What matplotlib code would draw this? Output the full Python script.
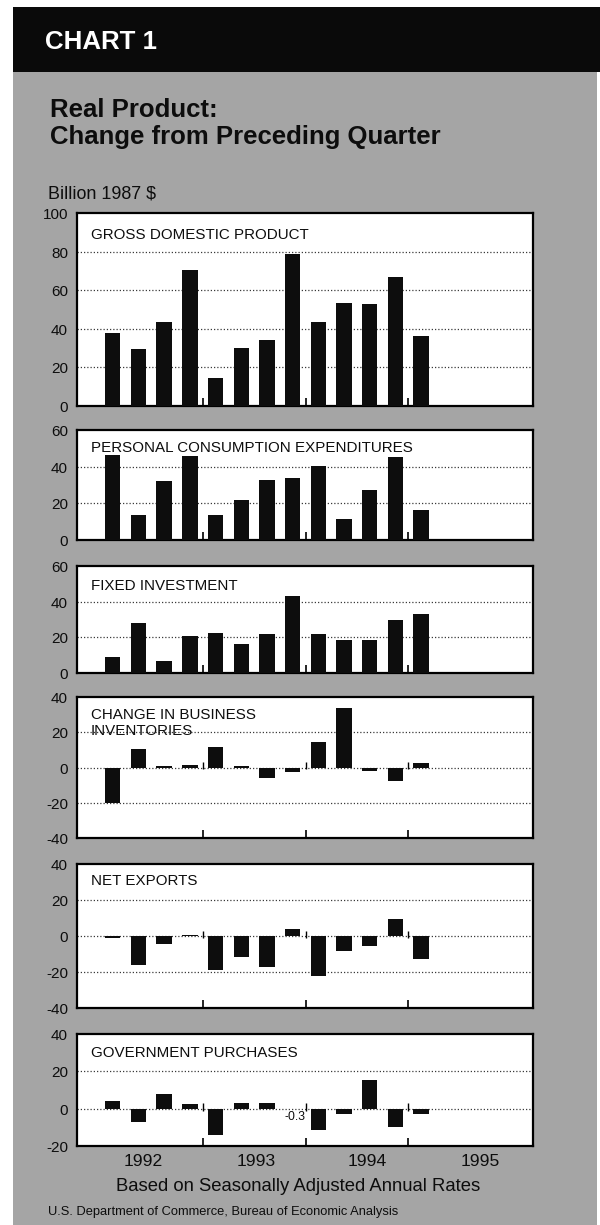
import matplotlib
matplotlib.use("Agg")
import matplotlib.pyplot as plt
from matplotlib.patches import Rectangle

plt.rcParams['font.family'] = ['Liberation Sans', 'DejaVu Sans']
plt.rcParams['axes.unicode_minus'] = False

# ---------------- data ----------------
quarters = ['1992Q1', '1992Q2', '1992Q3', '1992Q4',
            '1993Q1', '1993Q2', '1993Q3', '1993Q4',
            '1994Q1', '1994Q2', '1994Q3', '1994Q4', '1995Q1']
years = ['1992', '1993', '1994', '1995']
year_label_pos = [1.2, 5.6, 9.9, 14.3]
year_bounds = [3.5, 7.5, 11.5]

gdp = [37.9, 29.3, 43.6, 70.5, 14.7, 30.3, 34.3, 78.8, 43.3, 53.2, 53.0, 66.8, 36.4]
pce = [46.5, 13.8, 32.4, 46.0, 13.6, 21.8, 32.9, 34.0, 40.5, 11.3, 27.1, 45.1, 16.2]
fixed_inv = [8.8, 27.9, 6.6, 20.6, 22.3, 16.4, 21.7, 43.2, 21.9, 18.3, 18.3, 29.7, 32.9]
inventories = [-20.2, 10.3, 1.1, 1.5, 11.9, 0.6, -6.0, -2.4, 14.4, 33.5, -2.2, -7.9, 2.6]
net_exports = [-0.9, -16.2, -4.7, 0.5, -19.1, -11.8, -17.3, 4.0, -22.0, -8.2, -5.3, 9.6, -12.9]
government = [3.9, -7.2, 7.9, 2.5, -14.2, 3.2, 2.8, -0.3, -11.6, -2.8, 15.3, -9.8, -2.8]

titles = ['GROSS DOMESTIC PRODUCT', 'PERSONAL CONSUMPTION EXPENDITURES',
          'FIXED INVESTMENT', 'CHANGE IN BUSINESS\nINVENTORIES',
          'NET EXPORTS', 'GOVERNMENT PURCHASES']
series = [gdp, pce, fixed_inv, inventories, net_exports, government]
ylims = [(0, 100), (0, 60), (0, 60), (-40, 40), (-40, 40), (-20, 40)]
yticks = [[0, 20, 40, 60, 80, 100], [0, 20, 40, 60], [0, 20, 40, 60],
          [-40, -20, 0, 20, 40], [-40, -20, 0, 20, 40], [-20, 0, 20, 40]]

# ---------------- layout (pixels) ----------------
W, H = 600, 1225
fig = plt.figure(figsize=(W / 100, H / 100), dpi=100, facecolor='white')

def fx(x):
    return x / W

def fy(y):
    return 1 - y / H

GRAY = '#a5a5a5'
INK = '#0d0d0d'

# background
fig.patches.append(Rectangle((fx(13), 0), fx(597) - fx(13), fy(72), transform=fig.transFigure,
                             facecolor=GRAY, edgecolor='none', zorder=-10))
fig.patches.append(Rectangle((fx(13), fy(72)), 1 - fx(13), fy(7) - fy(72), transform=fig.transFigure,
                             facecolor='#0a0a0a', edgecolor='none', zorder=-10))

fig.text(fx(45), fy(49), 'CHART 1', color='white', fontsize=18.6, fontweight='bold', va='baseline')
fig.text(fx(50), fy(117), 'Real Product:', color=INK, fontsize=18.5, fontweight='bold', va='baseline')
fig.text(fx(50), fy(144), 'Change from Preceding Quarter', color=INK, fontsize=18.5,
         fontweight='bold', va='baseline')
fig.text(fx(48), fy(199), 'Billion 1987 $', color=INK, fontsize=12.9, va='baseline')

left, right = 77, 533
tops = [213, 430, 566, 697, 864, 1034]
bottoms = [406, 540, 673, 838, 1008, 1146]
title_drop = [26, 22, 24, 38, 21, 23]

x = list(range(len(quarters)))
axes = []
for k in range(6):
    ax = fig.add_axes([fx(left), fy(bottoms[k]), fx(right) - fx(left), (bottoms[k] - tops[k]) / H])
    axes.append(ax)
    ax.set_facecolor('white')
    lo, hi = ylims[k]
    ax.set_xlim(-1.39, 16.35)
    ax.set_ylim(lo, hi)
    ax.bar(x, series[k], width=0.6, color='#0d0d0d', zorder=3)
    for g in yticks[k]:
        if lo < g < hi:
            ax.axhline(g, color='#3a3a3a', lw=0.9, ls=(0, (1, 1.6)), zorder=1)
    for s in ax.spines.values():
        s.set_linewidth(1.6)
        s.set_color('black')
    ax.set_xticks(year_bounds)
    ax.tick_params(axis='x', direction='in', length=6, width=1.2, labelbottom=False)
    ax.set_yticks([])
    if lo < 0:
        ax.vlines(year_bounds, -1, 3, color='black', lw=1.0, zorder=2)
    for v in yticks[k]:
        ax.annotate(str(v), xy=(0, v), xycoords=('axes fraction', 'data'),
                    xytext=(-6.5, -1.5), textcoords='offset points',
                    ha='right', va='center', fontsize=11, color=INK, annotation_clip=False)
    ax.annotate(titles[k], xy=(0, 1), xycoords='axes fraction',
                xytext=(10, -title_drop[k] * 0.72), textcoords='offset points',
                ha='left', va='baseline', fontsize=10.9, color=INK, linespacing=1.15)

gov_ax = axes[-1]
gov_ax.annotate('-0.3', xy=(7, 0), xycoords='data', xytext=(2, -6.2), textcoords='offset points',
                ha='center', va='center', fontsize=8.8, color=INK)
for pos, yr in zip(year_label_pos, years):
    gov_ax.annotate(yr, xy=(pos, 0), xycoords=('data', 'axes fraction'),
                    xytext=(0, -(1166 - 1146) * 0.72), textcoords='offset points',
                    ha='center', va='baseline', fontsize=12.6, color=INK, annotation_clip=False)

fig.text(fx(298.5), fy(1191), 'Based on Seasonally Adjusted Annual Rates', color=INK,
         fontsize=13.3, ha='center', va='baseline')
fig.text(fx(48), fy(1215), 'U.S. Department of Commerce, Bureau of Economic Analysis', color=INK,
         fontsize=9.3, ha='left', va='baseline')

fig.savefig('out.png', dpi=100, facecolor='white')
